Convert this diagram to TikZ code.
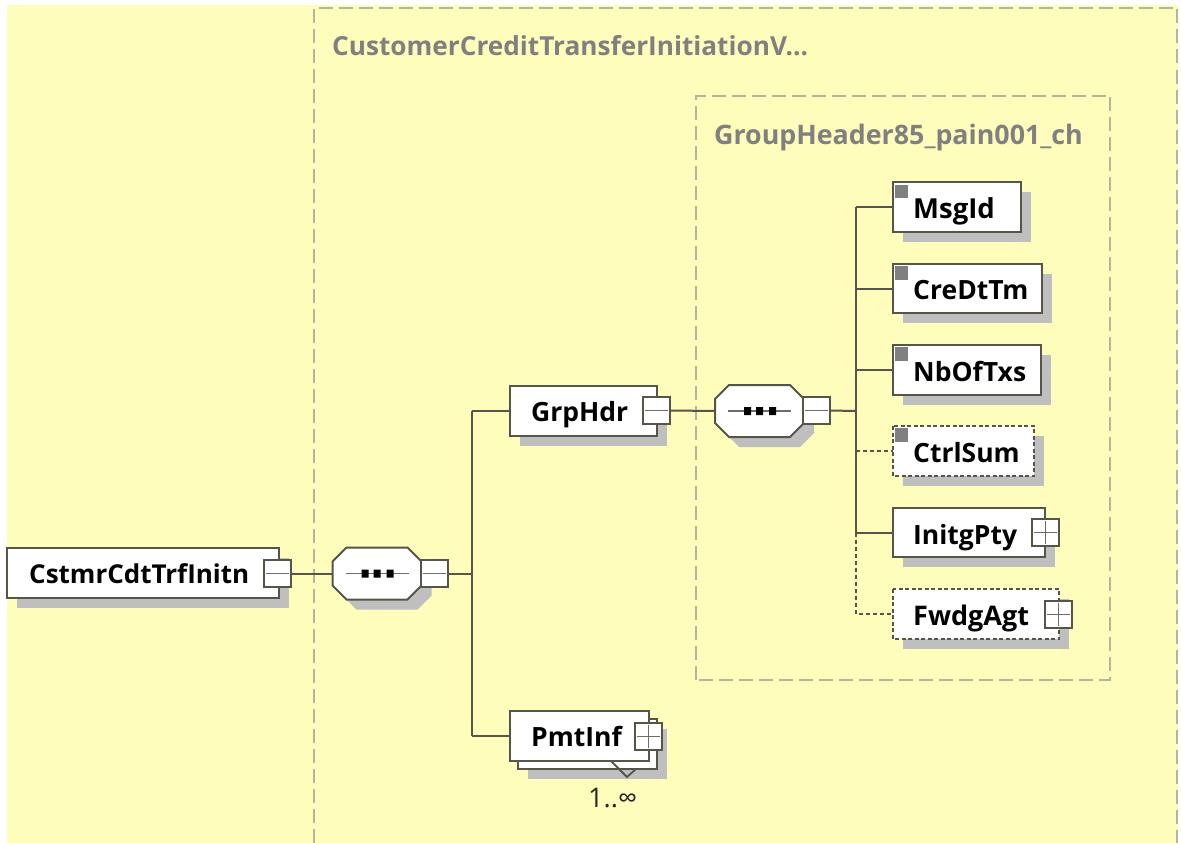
\documentclass[tikz,border=0pt]{standalone}
\usepackage{fontspec}
\setmainfont{Open Sans}
\definecolor{bgy}{HTML}{FFFDBB}
\definecolor{dashc}{HTML}{B5B59C}
\definecolor{linec}{HTML}{55554A}
\definecolor{shad}{HTML}{BFBFBF}
\definecolor{titlec}{HTML}{808080}
\tikzset{x=1pt,y=-1pt,
  group/.style={draw=dashc,line width=2pt,dash pattern=on 14pt off 6pt},
  conn/.style={draw=linec,line width=2pt},
  optconn/.style={draw=linec,line width=2pt,dash pattern=on 4pt off 3pt},
  box/.style={draw=linec,fill=white,line width=2pt},
  optbox/.style={draw=linec,fill=white,line width=2pt,dash pattern=on 4pt off 2.5pt},
  shadow/.style={fill=shad,draw=none},
  label/.style={font=\fontsize{26.5}{26.5}\selectfont\bfseries,text=black,inner sep=0pt,anchor=base west},
  title/.style={font=\fontsize{26.2}{26.2}\selectfont\bfseries,text=titlec,inner sep=0pt,anchor=base west},
  corner/.style={fill=titlec,draw=none},
}
\newcommand{\elbox}[6]{% name, x0,y0,x1,y1, style
  \fill[shadow] (#2+10,#3+10) rectangle (#4+10,#5+10);
  \draw[#6] (#2,#3) rectangle (#4,#5);
  \coordinate (#1) at (#2,{(#3+#5)/2});
}
\newcommand{\tog}[4]{% name, x0, y0, plus?
  \draw[box] (#2,#3) rectangle (#2+27,#3+27);
  \draw[draw=linec!85,line width=1.5pt] (#2+2,#3+13.5) -- (#2+25,#3+13.5);
  \ifnum#4=1 \draw[draw=linec!85,line width=1.5pt] (#2+13.5,#3+2) -- (#2+13.5,#3+25);\fi
  \coordinate (#1) at (#2+27,#3+13.5);
}
\newcommand{\octa}[2]{(#1+14,#2-26) -- (#1+75,#2-26) -- (#1+89,#2-12) -- (#1+89,#2+12) -- (#1+75,#2+26) -- (#1+14,#2+26) -- (#1,#2+12) -- (#1,#2-12) -- cycle}
\newcommand{\seqb}[3]{% name,x,y  (left mid)
  \fill[shadow] \octa{#2+10}{#3+10};
  \draw[box] \octa{#2}{#3};
  \draw[draw=linec!85,line width=1.5pt] (#2+13,#3) -- (#2+76,#3);
  \fill[black] (#2+29,#3-4) rectangle +(7,8) (#2+41,#3-4) rectangle +(7,8) (#2+54,#3-4) rectangle +(7,8);
  \coordinate (#1) at (#2,#3);
}
\begin{document}
\begin{tikzpicture}
\useasboundingbox (0,0) rectangle (1181,843);
\fill[white] (0,0) rectangle (1181,843);
\fill[bgy] (7,5) rectangle (1178,843);
\draw[group] (313.5,843) -- (313.5,8) -- (1177,8) -- (1177,843);
\node[title] (t1) at (332,56) {CustomerCreditTransferInitiationV...};
\draw[group] (696,680) rectangle (1110,95.5);
\node[title,font=\fontsize{26.8}{26.8}\selectfont\bfseries] (t2) at (714,144) {GroupHeader85\_pain001\_ch};
% connectors
\coordinate (j1) at (472,573.5);
\coordinate (j2) at (856,411);
\elbox{root}{7}{548}{279}{598}{box}
\node[label,font=\fontsize{26}{26}\selectfont\bfseries] (lroot) at (29,583) {CstmrCdtTrfInitn};
\tog{troot}{264}{560}{0}
\seqb{s1}{332.5}{573.5}
\tog{ts1}{420.5}{560}{0}
\elbox{grp}{510}{386}{657}{436}{box}
\node[label] (lgrp) at (531,421.5) {GrpHdr};
\tog{tgrp}{643}{397}{0}
\seqb{s2}{715}{411}
\tog{ts2}{803}{397}{0}
% PmtInf
\fill[shadow] (528,729) rectangle (667,779);
\draw[box] (518,719) rectangle (657,769);
\draw[box] (510,711) rectangle (649,761);
\coordinate (pmt) at (510,736);
\draw[draw=linec,line width=1.8pt] (611,761) -- (627,777) -- (636,769);
\node[label] (lpmt) at (531,746.5) {PmtInf};
\tog{tpmt}{635}{723}{1}
\node[font=\fontsize{27}{27}\selectfont,text=black!85,inner sep=0pt,anchor=base west] (card) at (588,807) {1..∞};
% children
\elbox{c1}{893}{182}{1021}{232}{box}
\fill[corner] (895,184.5) rectangle (908,198);
\node[label,font=\fontsize{27.5}{27.5}\selectfont\bfseries] (l1) at (913,218.5) {MsgId};
\elbox{c2}{893}{264}{1042}{313}{box}
\fill[corner] (895,266) rectangle (908,280);
\node[label] (l2) at (913,299.5) {CreDtTm};
\elbox{c3}{893}{345}{1041}{395}{box}
\fill[corner] (895,347) rectangle (908,361);
\node[label] (l3) at (913,381) {NbOfTxs};
\elbox{c4}{893}{426}{1034}{476}{optbox}
\fill[corner] (895,428) rectangle (908,442);
\node[label] (l4) at (913,462.5) {CtrlSum};
\elbox{c5}{893}{508}{1045}{557}{box}
\node[label] (l5) at (913,544) {InitgPty};
\tog{tc5}{1032}{519}{1}
\elbox{c6}{893}{589}{1059}{639}{optbox}
\node[label,font=\fontsize{27}{27}\selectfont\bfseries] (l6) at (913,625) {FwdgAgt};
\tog{tc6}{1045}{601}{1}
% lines
\draw[conn] (troot) -- (s1);
\draw[conn] (ts1) -- (j1);
\draw[conn] (j1 |- grp) -- (j1 |- pmt);
\draw[conn] (j1 |- grp) -- (grp);
\draw[conn] (j1 |- pmt) -- (pmt);
\draw[conn] (tgrp) -- (s2);
\draw[conn] (ts2) -- (j2);
\draw[conn] (j2 |- c1) -- (j2 |- c5);
\draw[conn] (j2 |- c1) -- (c1);
\draw[conn] (j2 |- c2) -- (c2);
\draw[conn] (j2 |- c3) -- (c3);
\draw[optconn] (j2 |- c4) -- (c4);
\draw[conn] (j2 |- c5) -- (c5);
\draw[optconn] (j2 |- c5) -- (j2 |- c6) -- (c6);
\end{tikzpicture}
\end{document}
